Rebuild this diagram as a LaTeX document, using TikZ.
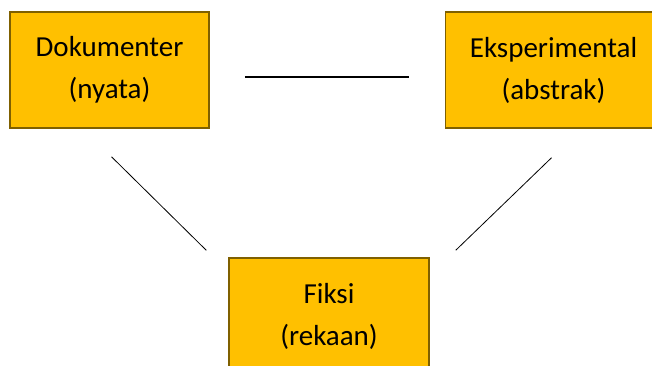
\documentclass[tikz,border=0pt]{standalone}
\usepackage{fontspec}
\setmainfont{Carlito}
\usepackage{tikz}
\usetikzlibrary{positioning}
\definecolor{emas}{HTML}{FFC000}
\definecolor{emastua}{HTML}{7F6000}

\begin{document}
\begin{tikzpicture}[x=1pt,y=-1pt]
  \tikzstyle{kotak} = [draw=emastua,fill=emas,line width=1.5pt,minimum width=199pt,minimum height=116pt,
    align=center,inner sep=0pt,font=\fontsize{29}{42}\selectfont];
  \tikzset{garis/.style={line width=0.8pt,black}};
  \useasboundingbox (0,0) rectangle (652,365);
  \clip (0,0) rectangle (652,365);
  \node[kotak] (dok) at (109.5,70) {Dokumenter\\(nyata)};
  \node[kotak,minimum width=216pt,right=235pt of dok] (eks) {Eksperimental\\(abstrak)};
  \node[kotak,minimum width=200pt] (fiksi) at (329,316) {Fiksi\\(rekaan)};
  \draw[garis,line width=2pt] ([shift={(35,7)}]dok.east) -- ([shift={(-36,7)}]eks.west);
  \draw[garis] ([shift={(2,28)}]dok.south) -- ([shift={(-22,-7)}]fiksi.north west);
  \draw[garis] ([shift={(-2,29)}]eks.south) -- ([shift={(26,-7)}]fiksi.north east);
\end{tikzpicture}
\end{document}
